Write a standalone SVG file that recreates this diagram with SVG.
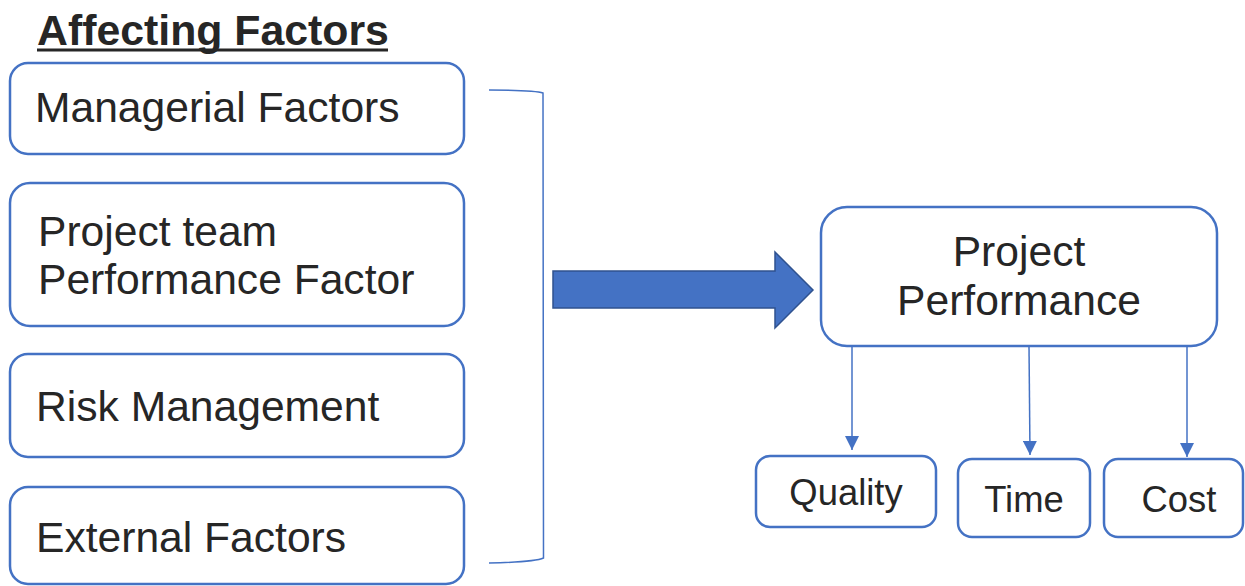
<svg xmlns="http://www.w3.org/2000/svg" width="1245" height="586" viewBox="0 0 1245 586">
<style>
.box{fill:#fff;stroke:#4472C4;stroke-width:2.5}
.t{font-family:"Liberation Sans",Arial,sans-serif;fill:#262626}
.big{font-size:42.6px}
.sm{font-size:36.4px}
.conn{stroke:#4472C4;stroke-width:1.5;fill:none}
</style>
<defs>
<marker id="ah2" viewBox="0 0 14 14" refX="14" refY="7" markerWidth="14" markerHeight="14" markerUnits="userSpaceOnUse" orient="auto">
<path d="M0,0 L14,7 L0,14 z" fill="#4472C4"/>
</marker>
</defs>
<g id="title">
<text class="t" x="37" y="45" font-size="42.8" font-weight="bold">Affecting Factors</text>
<rect x="37" y="48.5" width="351" height="3" fill="#262626"/>
</g>
<g id="managerial">
<rect class="box" x="10" y="63" width="454" height="91" rx="18"/>
<text class="t big" x="35" y="122">Managerial Factors</text>
</g>
<g id="team">
<rect class="box" x="10" y="183" width="454" height="143" rx="20"/>
<text class="t big" x="38" y="246">Project team</text>
<text class="t big" x="38" y="294">Performance Factor</text>
</g>
<g id="risk">
<rect class="box" x="10" y="354" width="454" height="103" rx="18"/>
<text class="t big" x="36" y="421">Risk Management</text>
</g>
<g id="external">
<rect class="box" x="10" y="487" width="454" height="97" rx="18"/>
<text class="t big" x="36" y="552">External Factors</text>
</g>
<g id="bracket">
<path d="M489,90 Q535,90 543,93 L543.5,558 Q535,562 489,563" fill="none" stroke="#4472C4" stroke-width="1.5"/>
</g>
<g id="bigarrow">
<path d="M553,271 L775,271 L775,252 L813,290 L775,328 L775,308 L553,308 Z" fill="#4472C4" stroke="#2F528F" stroke-width="1.5"/>
</g>
<g id="performance">
<rect class="box" x="821" y="207" width="396" height="139" rx="26"/>
<text class="t big" x="1019" y="266" text-anchor="middle">Project</text>
<text class="t big" x="1019" y="315" text-anchor="middle">Performance</text>
</g>
<g id="quality">
<rect class="box" x="756" y="456" width="180" height="71" rx="14"/>
<text class="t sm" x="846" y="505" text-anchor="middle">Quality</text>
</g>
<g id="time">
<rect class="box" x="958" y="459" width="132" height="78" rx="14"/>
<text class="t sm" x="1024" y="512" text-anchor="middle">Time</text>
</g>
<g id="cost">
<rect class="box" x="1104" y="459" width="139" height="78" rx="14"/>
<text class="t sm" x="1179" y="512" text-anchor="middle">Cost</text>
</g>
<g id="connectors">
<line class="conn" x1="852" y1="346" x2="852" y2="450" marker-end="url(#ah2)"/>
<line class="conn" x1="1029" y1="346" x2="1030" y2="455" marker-end="url(#ah2)"/>
<line class="conn" x1="1187" y1="346" x2="1187" y2="457" marker-end="url(#ah2)"/>
</g>
</svg>
